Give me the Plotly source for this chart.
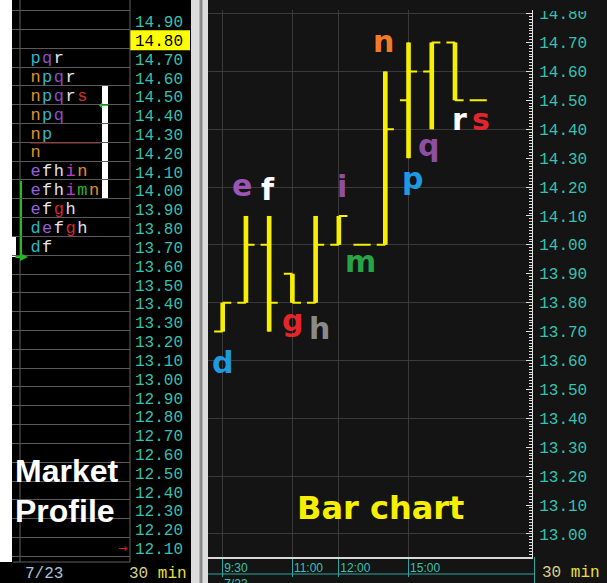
import plotly.graph_objects as go

W, H = 607, 583

# ---------------- data ----------------
letters = ["d", "e", "f", "g", "h", "i", "m", "n", "p", "q", "r", "s"]
times = ["9:30", "10:00", "10:30", "11:00", "11:30", "12:00",
         "14:00", "14:30", "15:00", "15:30", "16:00", "16:30"]
opens = [13.70, 13.80, 14.00, 13.90, 13.80, 14.00, 14.00, 14.00, 14.50, 14.60, 14.70, 14.50]
highs = [13.80, 14.10, 14.10, 13.90, 14.10, 14.10, 14.00, 14.60, 14.70, 14.70, 14.70, 14.50]
lows = [13.70, 13.80, 13.70, 13.80, 13.80, 14.00, 14.00, 14.00, 14.30, 14.40, 14.50, 14.50]
closes = [13.80, 14.00, 13.80, 13.80, 14.00, 14.10, 14.00, 14.40, 14.60, 14.70, 14.50, 14.50]
label_side = ["below", "above", "above", "below", "below", "above",
              "below", "above", "below", "below", "below", "below"]

profile_prices = [14.70, 14.60, 14.50, 14.40, 14.30, 14.20, 14.10, 14.00, 13.90, 13.80, 13.70]
profile_rows = ["pqr", "npqr", "npqrs", "npq", "np", "n", "efhin", "efhimn", "efgh", "defgh", "df"]

left_tick_labels = ["12.10", "12.20", "12.30", "12.40", "12.50", "12.60", "12.70", "12.80",
                    "12.90", "13.00", "13.10", "13.20", "13.30", "13.40", "13.50", "13.60",
                    "13.70", "13.80", "13.90", "14.00", "14.10", "14.20", "14.30", "14.40",
                    "14.50", "14.60", "14.70", "14.80", "14.90", "15.00"]
time_tick_vals = ["9:30", "11:00", "12:00", "15:00"]
time_tick_text = ["9:30<br>7/23", "11:00", "12:00", "15:00"]

highlight_price = 14.80
value_area_high = 14.50
value_area_low = 14.00
ib_high = 14.10
ib_low = 13.70
marker_price = 14.30
arrow_price = 14.50
last_arrow_price = 12.10

# ---------------- styles ----------------
TEAL = "#35c2b0"
YEL = "#f6f000"
bar_letter_colors = {"d": "#1e9be0", "e": "#9b55b5", "f": "#ffffff", "g": "#e3262b",
                     "h": "#8a8a8a", "i": "#8e4fa3", "m": "#27a348", "n": "#f07c28",
                     "p": "#1e9be0", "q": "#8e4fa3", "r": "#ffffff", "s": "#e3262b"}
prof_colors = {"d": "#2ab4c0", "e": "#9a60d8", "f": "#e8e8e8", "g": "#d42838",
               "h": "#e0e0e0", "i": "#c040c0", "m": "#28b028", "n": "#e0902c",
               "p": "#30b4c8", "q": "#8a50c8", "r": "#e8e8e8", "s": "#d43030"}
# pixel nudges of the big bar letters (x right, y down), layout only
label_dx = [0, -4, -1, 0, 4, 3, -2, -2, 4, -3, 4, 3]
label_dy = [31, -30, -26, 18, 26, -29, 17, -30, 20, 16, 19, 19]


def X(px):
    return px / W


def Y(py):
    return 1 - py / H


left_vals = [float(t) for t in left_tick_labels]
left_text = [("<span style='color:#000000'>%s</span>" % t) if abs(float(t) - highlight_price) < 1e-6 else t
             for t in left_tick_labels]

fig = go.Figure()

# profile letters
px_, py_, pt_, pc_ = [], [], [], []
for price, row in zip(profile_prices, profile_rows):
    for i, ch in enumerate(row):
        px_.append(i)
        py_.append(price)
        pt_.append(ch)
        pc_.append(prof_colors[ch])
fig.add_trace(go.Scatter(x=px_, y=py_, text=pt_, mode="text", textposition="middle center",
                         textfont=dict(family="Liberation Mono", size=17, color=pc_),
                         xaxis="x", yaxis="y", hoverinfo="skip"))
fig.add_trace(go.Scatter(x=[None], y=[None], xaxis="x", yaxis="y4", hoverinfo="skip"))

# bar chart
fig.add_trace(go.Bar(x=times, y=[h - l for h, l in zip(highs, lows)], base=lows, width=0.2,
                     marker=dict(color=YEL, line=dict(width=0)), xaxis="x2", yaxis="y2",
                     hoverinfo="skip"))
fig.add_trace(go.Ohlc(x=times, open=opens, high=highs, low=lows, close=closes,
                      increasing=dict(line=dict(color=YEL, width=2)),
                      decreasing=dict(line=dict(color=YEL, width=2)),
                      tickwidth=0.37, xaxis="x2", yaxis="y2", hoverinfo="skip"))
fig.add_trace(go.Scatter(x=[None], y=[None], xaxis="x2", yaxis="y3", hoverinfo="skip"))

# ---------------- shapes ----------------
shapes = []


def rect(x0, y0, x1, y1, color, layer="below", yref="paper"):
    if yref == "paper":
        y0, y1 = Y(y0), Y(y1)
    shapes.append(dict(type="rect", xref="paper", yref=yref, x0=X(x0), x1=X(x1), y0=y0, y1=y1,
                       fillcolor=color, line=dict(width=0), layer=layer))


def line(x0, y0, x1, y1, color, width=1, layer="below", yref="paper"):
    if yref == "paper":
        y0, y1 = Y(y0), Y(y1)
    shapes.append(dict(type="line", xref="paper", yref=yref, x0=X(x0), x1=X(x1), y0=y0, y1=y1,
                       line=dict(color=color, width=width), layer=layer))


rect(12, 0, 191, 583, "#000000")
rect(0, 562, 12, 583, "#000000")
rect(12, 237, 16, 257, "#ffffff")
rect(191, 0, 208, 583, "#dcdcdc")
rect(199.5, 0, 202.5, 583, "#8a8a8a")
rect(208, 0, 607, 583, "#141414")
rect(130, highlight_price - 0.053, 190, highlight_price + 0.053, "#ffff00", yref="y")
line(20, 0, 20, 562, "#606060")
line(130, 0, 130, 562, "#606060")
line(13, 562, 130, 562, "#606060")
line(30, marker_price - 0.044, 100, marker_price - 0.044, "#d42020", 1.5, yref="y")
rect(102, value_area_low - 0.042, 108, value_area_high + 0.058, "#ffffff", yref="y")
line(21, ib_high - 0.047, 21, ib_low - 0.052, "#22bb22", 2, yref="y")
line(208, 574, 535, 574, "#2aa8a0")
line(534.5, 557, 534.5, 583, "#2aa8a0")
rect(208, 0, 607, 9, "#141414", layer="above")
rect(533, 0, 607, 11, "#141414", layer="above")

# ---------------- annotations ----------------
ann = []
for t, l, h, s, c, dx, dy in zip(times, letters, highs, label_side, lows, label_dx, label_dy):
    ann.append(dict(xref="x2", yref="y2", x=t, y=(h if s == "above" else c), text="<b>%s</b>" % l,
                    showarrow=False, xanchor="center", yanchor="middle", xshift=dx, yshift=-dy,
                    font=dict(family="DejaVu Sans", size=30, color=bar_letter_colors[l])))
ann.append(dict(xref="paper", yref="y", x=X(104), y=arrow_price - 0.044, text="←", showarrow=False,
                xanchor="center", yanchor="middle",
                font=dict(family="DejaVu Sans", size=12, color="#22cc22")))
ann.append(dict(xref="paper", yref="y", x=X(122), y=last_arrow_price, text="→", showarrow=False,
                xanchor="center", yanchor="middle",
                font=dict(family="DejaVu Sans", size=11, color="#e02020")))
ann.append(dict(xref="paper", yref="y", x=X(28), y=ib_low - 0.052, ax=-14, ay=0, text="",
                showarrow=True, arrowhead=2, arrowsize=0.8, arrowwidth=2, arrowcolor="#22bb22"))
ann.append(dict(xref="paper", yref="paper", x=X(23), y=Y(574), text="7/23", showarrow=False,
                xanchor="left", yanchor="middle",
                font=dict(family="Liberation Mono", size=16, color="#a9c4dc")))
ann.append(dict(xref="paper", yref="paper", x=X(189), y=Y(574), xanchor="right", yanchor="middle",
                showarrow=False,
                text="<span style='color:#d6cf8a'>30</span> <span style='color:#e6e03c'>min</span>",
                font=dict(family="Liberation Mono", size=16)))
ann.append(dict(xref="paper", yref="paper", x=X(540), y=Y(573), xanchor="left", yanchor="middle",
                showarrow=False,
                text="<span style='color:#d6cf8a'>30</span> <span style='color:#e6e03c'>min</span>",
                font=dict(family="Liberation Mono", size=16)))
ann.append(dict(xref="paper", yref="paper", x=X(13), y=Y(471), xanchor="left", yanchor="middle",
                showarrow=False, text="<b>Market</b>",
                font=dict(family="Liberation Sans", size=32, color="#ffffff")))
ann.append(dict(xref="paper", yref="paper", x=X(13), y=Y(511), xanchor="left", yanchor="middle",
                showarrow=False, text="<b>Profile</b>",
                font=dict(family="Liberation Sans", size=32, color="#ffffff")))
ann.append(dict(xref="paper", yref="paper", x=X(380), y=Y(508), xanchor="center", yanchor="middle",
                showarrow=False, text="<b>Bar chart</b>",
                font=dict(family="DejaVu Sans", size=32, color=YEL)))

y2_range = [12.9203, 14.8124]
left_range = [11.9165, 15.0142]

fig.update_layout(
    width=W, height=H, margin=dict(l=0, r=0, t=0, b=0, autoexpand=False),
    paper_bgcolor="#ffffff", plot_bgcolor="rgba(0,0,0,0)", showlegend=False,
    shapes=shapes, annotations=ann,
    xaxis=dict(domain=[X(12), X(130)], range=[-2.0085, 8.077], visible=False, anchor="y",
               automargin=False),
    yaxis=dict(domain=[0, 1], range=left_range, anchor="x", side="right", automargin=False,
               tickmode="array", tickvals=left_vals, ticktext=left_text,
               tickfont=dict(family="Liberation Mono", size=16, color=TEAL),
               showgrid=False, zeroline=False, showline=False, ticks="", ticklabelstandoff=4),
    yaxis4=dict(overlaying="y", anchor="x", range=left_range, tickmode="array", automargin=False,
                tickvals=[v - 0.042 for v in left_vals], showgrid=True, gridcolor="#5a5a5a",
                showticklabels=False, ticks="", zeroline=False),
    xaxis2=dict(domain=[X(208), X(532)], anchor="y2", type="category", automargin=False,
                categoryorder="array", categoryarray=times, range=[-0.633, 13.315],
                tickmode="array", tickvals=time_tick_vals, ticktext=time_tick_text,
                ticks="outside", ticklen=18, tickcolor="#2aa8a0", tickwidth=1,
                ticklabelposition="outside right", ticklabelstandoff=-1,
                tickfont=dict(family="Liberation Sans", size=12, color=TEAL),
                showgrid=True, gridcolor="#3a3a3a", showline=True, linecolor="#d8d8d8",
                linewidth=2, zeroline=False, rangeslider=dict(visible=False)),
    yaxis2=dict(domain=[Y(557), Y(10)], anchor="x2", side="right", range=y2_range,
                automargin=False,
                tick0=0, dtick=0.1, tickformat=".2f", ticks="inside", ticklen=6,
                tickcolor="#e0e0e0", minor=dict(dtick=0.01, ticks="inside", ticklen=3,
                                                tickcolor="#e0e0e0", showgrid=False),
                showline=True, linecolor="#e0e0e0", linewidth=1,
                tickfont=dict(family="Liberation Mono", size=16, color=TEAL),
                showgrid=False, zeroline=False, ticklabelstandoff=3),
    yaxis3=dict(overlaying="y2", anchor="x2", range=y2_range, tick0=0, dtick=0.2,
                automargin=False,
                showgrid=True, gridcolor="#3a3a3a", showticklabels=False, ticks="",
                zeroline=False, side="left"),
)

fig.write_html("out.html")
